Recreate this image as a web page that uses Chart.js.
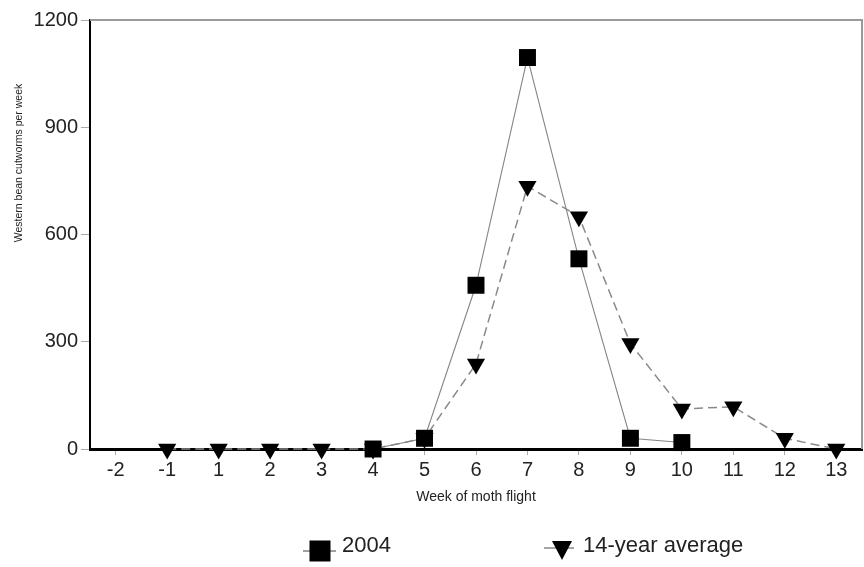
<!DOCTYPE html>
<html>
<head>
<meta charset="utf-8">
<script src="https://cdn.jsdelivr.net/npm/chart.js@4"></script>
<style>
  html, body { margin: 0; padding: 0; background: #fff; }
  #wrap { width: 864px; height: 567px; }
</style>
</head>
<body>
<div id="wrap"><canvas id="myChart" width="864" height="567"></canvas></div>
<script>
const weeks = ['-2', '-1', '1', '2', '3', '4', '5', '6', '7', '8', '9', '10', '11', '12', '13'];
const data2004 = [null, null, null, null, null, 0, 30, 458, 1095, 532, 30, 18, null, null, null];
const dataAvg = [null, 0, 0, 0, 0, 0, 30, 238, 735, 650, 295, 112, 118, 30, 0];
const yTicks = [0, 300, 600, 900, 1200];
const yTitle = 'Western bean cutworms per week';
const xTitle = 'Week of moth flight';

const fontFam = '"Liberation Sans", Arial, sans-serif';

// frame, rotated y title and the legend with line+marker
const extras = {
    id: 'extras',
    beforeDatasetsDraw(chart) {
        const a = chart.chartArea;
        const ctx = chart.ctx;
        ctx.save();
        ctx.strokeStyle = '#9a9a9a';
        ctx.lineWidth = 2;
        ctx.beginPath();
        ctx.moveTo(a.left, a.top);
        ctx.lineTo(a.right, a.top);
        ctx.lineTo(a.right, a.bottom);
        ctx.stroke();
        ctx.restore();
    },
    afterDraw(chart) {
        const ctx = chart.ctx;
        ctx.save();
        ctx.fillStyle = '#222';
        ctx.font = '10.5px ' + fontFam;
        ctx.translate(19, 163);
        ctx.rotate(-Math.PI / 2);
        ctx.textAlign = 'center';
        ctx.textBaseline = 'middle';
        ctx.fillText(yTitle, 0, 0);
        ctx.restore();

        const ds = chart.data.datasets;
        ctx.save();
        ctx.font = '22px ' + fontFam;
        ctx.fillStyle = '#222';
        ctx.textBaseline = 'alphabetic';
        // 2004
        ctx.strokeStyle = '#808080';
        ctx.lineWidth = 1.5;
        ctx.beginPath();
        ctx.moveTo(303, 551);
        ctx.lineTo(336, 551);
        ctx.stroke();
        ctx.fillStyle = '#000';
        ctx.fillRect(309.5, 540.5, 21, 21);
        ctx.fillStyle = '#222';
        ctx.fillText(ds[0].label, 342, 552);
        // 14-year average
        ctx.strokeStyle = '#888';
        ctx.beginPath();
        ctx.moveTo(544, 548);
        ctx.lineTo(574, 548);
        ctx.stroke();
        ctx.fillStyle = '#000';
        ctx.beginPath();
        ctx.moveTo(552, 541);
        ctx.lineTo(572, 541);
        ctx.lineTo(562, 560);
        ctx.closePath();
        ctx.fill();
        ctx.fillStyle = '#222';
        ctx.fillText(ds[1].label, 583, 552);
        ctx.restore();
    }
};

const ctx = document.getElementById('myChart').getContext('2d');
const myChart = new Chart(ctx, {
    type: 'line',
    data: {
        labels: weeks,
        datasets: [
            {
                label: '2004',
                data: data2004,
                borderColor: '#858585',
                borderWidth: 1.1,
                pointStyle: 'rect',
                pointRadius: 12,
                pointBackgroundColor: '#000',
                pointBorderColor: '#000',
                pointBorderWidth: 0,
                fill: false,
                clip: false,
                tension: 0
            },
            {
                label: '14-year average',
                data: dataAvg,
                borderColor: '#8a8a8a',
                borderWidth: 1.5,
                borderDash: [9, 5],
                pointStyle: 'triangle',
                pointRotation: 180,
                pointRadius: 10.5,
                pointBackgroundColor: '#000',
                pointBorderColor: '#000',
                pointBorderWidth: 0,
                fill: false,
                clip: false,
                tension: 0
            }
        ]
    },
    options: {
        responsive: false,
        animation: false,
        layout: {
            autoPadding: false,
            padding: { top: 20, right: 2, bottom: 61, left: 0 }
        },
        plugins: {
            legend: { display: false },
            tooltip: { enabled: false }
        },
        scales: {
            x: {
                type: 'category',
                offset: true,
                afterFit(scale) {
                    scale.height = 57;
                    scale.paddingLeft = 0;
                    scale.paddingRight = 0;
                },
                grid: {
                    drawOnChartArea: false,
                    tickLength: 6,
                    color: '#aaa',
                    offset: false
                },
                border: { color: '#000', width: 3 },
                ticks: {
                    color: '#222',
                    padding: 3,
                    maxRotation: 0,
                    autoSkip: false,
                    font: { family: fontFam, size: 20 }
                },
                title: {
                    display: true,
                    text: xTitle,
                    color: '#222',
                    padding: { top: 0, bottom: 0 },
                    font: { family: fontFam, size: 14 }
                }
            },
            y: {
                min: 0,
                max: 1200,
                afterFit(scale) { scale.width = 90; },
                afterBuildTicks(scale) {
                    scale.ticks = yTicks.map(v => ({ value: v }));
                },
                grid: {
                    drawOnChartArea: false,
                    tickLength: 9,
                    color: '#aaa'
                },
                border: { color: '#000', width: 2 },
                ticks: {
                    color: '#222',
                    padding: 3,
                    callback: v => String(v),
                    font: { family: fontFam, size: 20 }
                }
            }
        }
    },
    plugins: [extras]
});
</script>
</body>
</html>
